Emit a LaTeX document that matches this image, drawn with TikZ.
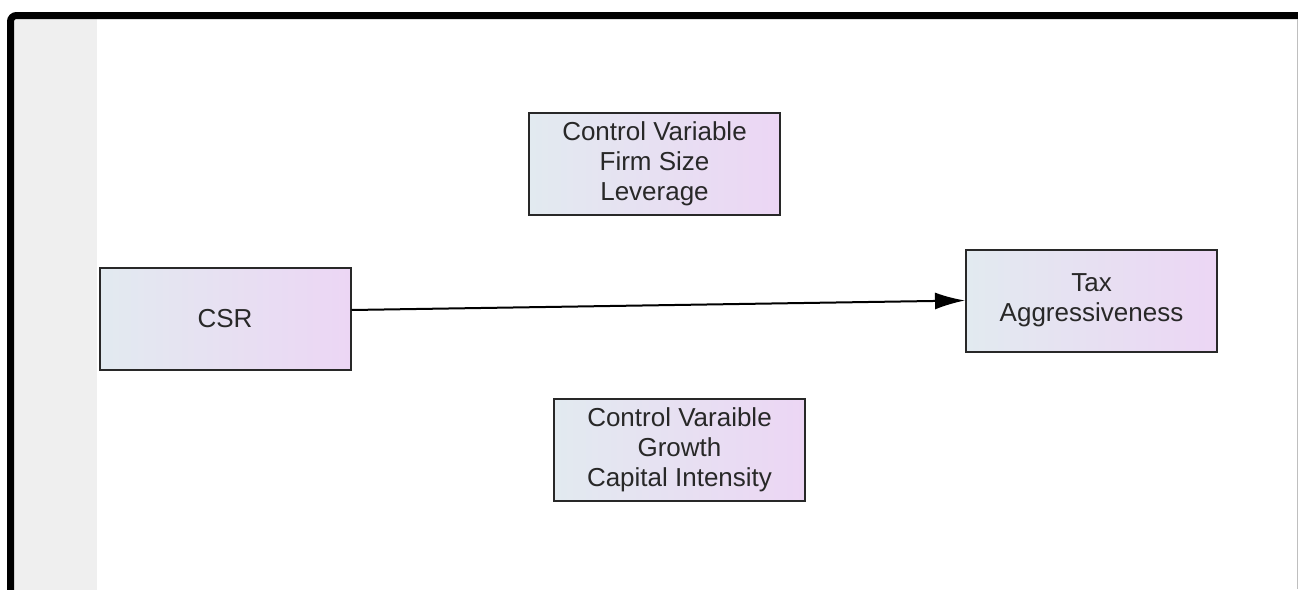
\documentclass[tikz,border=0pt]{standalone}
\usepackage{fontspec}
\setmainfont{Liberation Sans}
\usetikzlibrary{arrows.meta}
\definecolor{boxleft}{RGB}{226,234,240}
\definecolor{boxright}{RGB}{236,214,244}
\definecolor{boxline}{RGB}{40,40,40}
\definecolor{stripgray}{RGB}{239,239,239}
\definecolor{textgray}{RGB}{40,40,40}
\tikzset{
  varbox/.style={draw=boxline, line width=2pt, left color=boxleft, right color=boxright,
    minimum width=251pt, minimum height=102pt, align=center, inner sep=0pt,
    text=textgray, font=\fontsize{26}{30}\selectfont},
  link/.style={draw=black, line width=2pt, -{Latex[length=30pt,width=17pt]}}
}
\begin{document}
\begin{tikzpicture}[x=1pt,y=-1pt]
  \useasboundingbox (0,0) rectangle (1298,589);
  \begin{scope}
    \clip (0,0) rectangle (1298,589);
    % side panel
    \fill[stripgray] (14,19) rectangle (97,600);
    % outer frame, open to the right and bottom
    \draw[line width=7pt, rounded corners=6pt] (10.5,15.5) rectangle (1320,620);
    \draw[black!25, line width=1pt] (1297,19) -- (1297,589);
  \end{scope}
  % variables
  \node[varbox] (csr)  at (225,319)    {CSR};
  \node[varbox] (ctrla) at (654.5,164) {Control Variable\\Firm Size\\Leverage};
  \node[varbox] (ctrlb) at (679.5,449.5) {Control Varaible\\Growth\\Capital Intensity};
  \node[varbox] (tax)  at (1091.5,300.5) {Tax\\Aggressiveness};
  % effect path
  \draw[link] ([yshift=9pt]csr.east) -- (tax.west);
\end{tikzpicture}
\end{document}
